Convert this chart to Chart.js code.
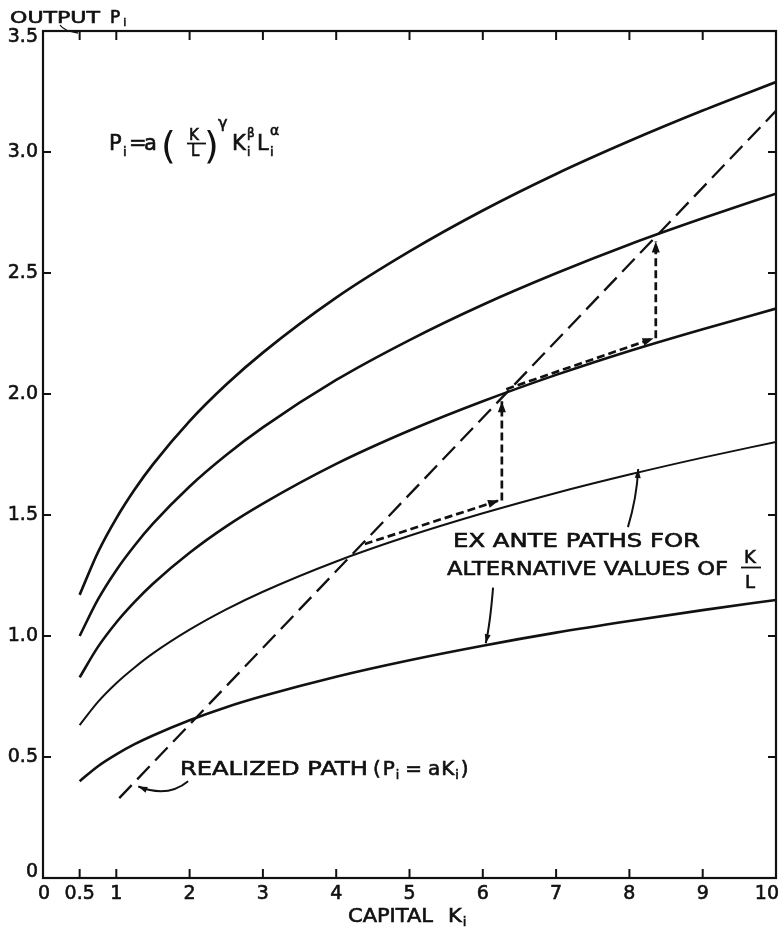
<!DOCTYPE html>
<html><head><meta charset="utf-8">
<script src="https://cdn.jsdelivr.net/npm/chart.js@4"></script>
<style>html,body{margin:0;padding:0;background:#fff}canvas{display:block}</style>
</head><body>
<canvas id="c" width="779" height="928"></canvas>
<script>
// ---- data ----
const capitalK = [0.5, 0.75, 1, 1.25, 1.5, 2, 2.5, 3, 4, 5, 6, 7, 8, 9, 10];
const path1 = [1.170, 1.346, 1.486, 1.605, 1.709, 1.888, 2.039, 2.171, 2.398, 2.589, 2.758, 2.909, 3.045, 3.171, 3.289];
const path2 = [1.000, 1.151, 1.272, 1.374, 1.464, 1.618, 1.748, 1.862, 2.058, 2.223, 2.369, 2.499, 2.618, 2.726, 2.828];
const path3 = [0.829, 0.955, 1.056, 1.141, 1.216, 1.344, 1.453, 1.547, 1.711, 1.849, 1.970, 2.079, 2.178, 2.268, 2.353];
const path4 = [0.632, 0.728, 0.805, 0.870, 0.928, 1.026, 1.110, 1.183, 1.308, 1.414, 1.507, 1.591, 1.667, 1.737, 1.802];
const path5 = [0.400, 0.462, 0.511, 0.553, 0.589, 0.652, 0.706, 0.752, 0.832, 0.900, 0.960, 1.014, 1.062, 1.107, 1.149];
const realizedK = [1.04, 10];
const realizedP = [0.33, 3.17];
const step1K = [4.39, 6.22], step1P = [1.38, 1.56];
const rise1K = [6.26, 6.26], rise1P = [1.56, 1.97];
const step2K = [6.32, 8.33], step2P = [2.02, 2.23];
const rise2K = [8.36, 8.36], rise2P = [2.23, 2.63];
const xTickVals = [0, 0.5, 1, 2, 3, 4, 5, 6, 7, 8, 9, 10];
const xTickLabels = ['0', '0.5', '1', '2', '3', '4', '5', '6', '7', '8', '9', '10'];
const yTickVals = [0, 0.5, 1, 1.5, 2, 2.5, 3, 3.5];
const yTickLabels = ['0', '0.5', '1.0', '1.5', '2.0', '2.5', '3.0', '3.5'];

const FONT = '"DejaVu Sans", sans-serif';
const INK = '#111';
const pts = (xs, ys) => xs.map((x, i) => ({x: x, y: ys[i]}));

function curve(data, w) {
  return {data: pts(capitalK, data), borderColor: INK, borderWidth: w, pointRadius: 0,
          cubicInterpolationMode: 'monotone', fill: false};
}
function dashed(xs, ys, dash, w, head) {
  return {data: pts(xs, ys), borderColor: INK, borderWidth: w, pointRadius: 0,
          borderDash: dash, fill: false, arrowHead: head};
}
function T(ctx, s, x, y) {
  ctx.fillText(s, x, y);
  ctx.save(); ctx.lineWidth = 0.6; ctx.strokeText(s, x, y); ctx.restore();
}
function fitText(ctx, s, x, y, w, size) {
  ctx.font = size + 'px ' + FONT;
  const m = ctx.measureText(s).width;
  ctx.save(); ctx.translate(x, y); ctx.scale(w / m, 1); T(ctx, s, 0, 0); ctx.restore();
}
function rich(ctx, parts, x, y, sx) {
  let cx = x;
  for (const p of parts) {
    ctx.font = p.size + 'px ' + FONT;
    const m = ctx.measureText(p.t).width;
    ctx.save(); ctx.translate(cx, y + (p.dy || 0)); ctx.scale(sx, 1); T(ctx, p.t, 0, 0); ctx.restore();
    cx += m * sx + (p.gap || 0);
  }
}
function head(ctx, x, y, ang, len, wid) {
  ctx.save(); ctx.translate(x, y); ctx.rotate(ang);
  ctx.beginPath(); ctx.moveTo(0, 0); ctx.lineTo(-len, -wid / 2); ctx.lineTo(-len, wid / 2); ctx.closePath();
  ctx.fill(); ctx.restore();
}
function curvedArrow(ctx, xs, ys, s, c, t) {
  const p0 = {x: xs.getPixelForValue(s[0]), y: ys.getPixelForValue(s[1])};
  const p1 = {x: xs.getPixelForValue(c[0]), y: ys.getPixelForValue(c[1])};
  const p2 = {x: xs.getPixelForValue(t[0]), y: ys.getPixelForValue(t[1])};
  ctx.beginPath(); ctx.moveTo(p0.x, p0.y); ctx.quadraticCurveTo(p1.x, p1.y, p2.x, p2.y); ctx.stroke();
  head(ctx, p2.x, p2.y, Math.atan2(p2.y - p1.y, p2.x - p1.x), 9, 6);
}

const decor = {
  id: 'decor',
  afterDatasetsDraw(chart) {
    const ctx = chart.ctx, a = chart.chartArea;
    const xs = chart.scales.x, ys = chart.scales.y;
    ctx.save();
    ctx.fillStyle = INK; ctx.strokeStyle = INK;
    // arrow heads on dashed step arrows
    chart.data.datasets.forEach((ds, i) => {
      if (!ds.arrowHead) return;
      const m = chart.getDatasetMeta(i).data;
      const p = m[m.length - 1], q = m[m.length - 2];
      head(ctx, p.x, p.y, Math.atan2(p.y - q.y, p.x - q.x), 11, 8);
    });
    // frame
    ctx.lineWidth = 2.2;
    ctx.strokeRect(a.left, a.top, a.right - a.left, a.bottom - a.top);
    // inward ticks
    ctx.lineWidth = 2;
    xTickVals.forEach(v => {
      if (v === 0 || v === 10) return;
      const px = xs.getPixelForValue(v);
      ctx.beginPath(); ctx.moveTo(px, a.bottom); ctx.lineTo(px, a.bottom - 9); ctx.stroke();
      ctx.beginPath(); ctx.moveTo(px, a.top); ctx.lineTo(px, a.top + 9); ctx.stroke();
    });
    yTickVals.forEach(v => {
      if (v === 0 || v === 3.5) return;
      const py = ys.getPixelForValue(v);
      ctx.beginPath(); ctx.moveTo(a.left, py); ctx.lineTo(a.left + 8, py); ctx.stroke();
      ctx.beginPath(); ctx.moveTo(a.right, py); ctx.lineTo(a.right - 8, py); ctx.stroke();
    });
    // tick labels
    ctx.textBaseline = 'middle';
    ctx.font = '19px ' + FONT;
    ctx.textAlign = 'right';
    yTickVals.forEach((v, i) => {
      let py = ys.getPixelForValue(v);
      if (v === 0) py -= 6;
      if (v === 3.5) py += 6;
      T(ctx, yTickLabels[i], 38, py);
    });
    xTickVals.forEach((v, i) => {
      const px = xs.getPixelForValue(v);
      if (v === 10) { ctx.textAlign = 'right'; T(ctx, xTickLabels[i], 779, a.bottom + 16); }
      else { ctx.textAlign = 'center'; T(ctx, xTickLabels[i], px + (v === 0 ? 1 : 0), a.bottom + 16); }
    });
    ctx.textAlign = 'left'; ctx.textBaseline = 'alphabetic';
    // axis titles
    fitText(ctx, 'OUTPUT', 10, 23, 90, 16);
    rich(ctx, [{t: 'P', size: 17, gap: 3}, {t: 'i', size: 11, dy: 3}], 110, 23, 1);
    ctx.lineWidth = 1.3;
    ctx.beginPath(); ctx.moveTo(60, 25); ctx.quadraticCurveTo(64, 31, 78, 33); ctx.stroke();
    fitText(ctx, 'CAPITAL', 348, 922, 85, 19);
    rich(ctx, [{t: 'K', size: 19, gap: 1}, {t: 'i', size: 12, dy: 4}], 448, 922, 1.1);
    // formula
    ctx.font = '21px ' + FONT; T(ctx, 'P', 109, 150);
    ctx.font = '13px ' + FONT; T(ctx, 'i', 123, 156);
    ctx.font = '21px ' + FONT; T(ctx, '=', 129, 150);
    T(ctx, 'a', 144, 150);
    ctx.font = '38px ' + FONT; ctx.fillText('(', 161, 158);
    ctx.font = '15px ' + FONT; T(ctx, 'K', 189, 140);
    T(ctx, 'L', 191, 156);
    ctx.lineWidth = 1.8;
    ctx.beginPath(); ctx.moveTo(187, 143.5); ctx.lineTo(206, 143.5); ctx.stroke();
    ctx.font = '38px ' + FONT; ctx.fillText(')', 204, 158);
    ctx.font = '16px ' + FONT; T(ctx, 'γ', 218, 128);
    ctx.font = '21px ' + FONT; T(ctx, 'K', 232, 150);
    ctx.font = '12px ' + FONT; T(ctx, 'β', 247, 137); T(ctx, 'i', 247, 156);
    ctx.font = '21px ' + FONT; T(ctx, 'L', 257, 150);
    ctx.font = '14px ' + FONT; T(ctx, 'α', 270, 135);
    ctx.font = '13px ' + FONT; T(ctx, 'i', 270, 156);
    // ex ante annotation
    fitText(ctx, 'EX ANTE PATHS FOR', 453, 547, 247, 19);
    fitText(ctx, 'ALTERNATIVE VALUES OF', 447, 575, 281, 19);
    ctx.font = '18px ' + FONT; T(ctx, 'K', 744, 563); T(ctx, 'L', 745, 588);
    ctx.lineWidth = 1.8;
    ctx.beginPath(); ctx.moveTo(741, 567.5); ctx.lineTo(761, 567.5); ctx.stroke();
    // realized path annotation
    fitText(ctx, 'REALIZED PATH', 180, 775, 188, 19);
    rich(ctx, [{t: '(', size: 19, gap: 2}, {t: 'P', size: 19, gap: 1}, {t: 'i', size: 12, dy: 4, gap: 6},
               {t: '=', size: 19, gap: 6}, {t: 'a', size: 19, gap: 1}, {t: 'K', size: 19, gap: 1},
               {t: 'i', size: 12, dy: 4, gap: 2}, {t: ')', size: 19}], 373, 775, 1.05);
    // annotation arrows
    ctx.lineWidth = 2;
    curvedArrow(ctx, xs, ys, [7.98, 1.45], [8.10, 1.57], [8.12, 1.69]);
    curvedArrow(ctx, xs, ys, [6.14, 1.20], [6.10, 1.05], [6.04, 0.97]);
    curvedArrow(ctx, xs, ys, [1.98, 0.40], [1.70, 0.33], [1.30, 0.378]);
    ctx.restore();
  }
};

new Chart(document.getElementById('c'), {
  type: 'line',
  data: {
    datasets: [
      curve(path1, 2.7), curve(path2, 2.6), curve(path3, 2.6), curve(path4, 2.0), curve(path5, 2.6),
      dashed(realizedK, realizedP, [18, 8], 2.3, false),
      dashed(step1K, step1P, [8, 4], 2.7, true),
      dashed(rise1K, rise1P, [8, 4], 2.7, true),
      dashed(step2K, step2P, [8, 4], 2.7, true),
      dashed(rise2K, rise2P, [8, 4], 2.7, true)
    ]
  },
  options: {
    responsive: false, animation: false, devicePixelRatio: 1,
    layout: {padding: {top: 31, right: 3, left: 0, bottom: 0}},
    plugins: {legend: {display: false}, tooltip: {enabled: false}},
    scales: {
      x: {type: 'linear', min: 0, max: 10,
          grid: {display: false}, border: {display: false}, ticks: {display: false},
          afterBuildTicks: s => { s.ticks = xTickVals.map(v => ({value: v})); },
          afterFit: s => { s.height = 50; }},
      y: {type: 'linear', min: 0, max: 3.5,
          grid: {display: false}, border: {display: false}, ticks: {display: false},
          afterBuildTicks: s => { s.ticks = yTickVals.map(v => ({value: v})); },
          afterFit: s => { s.width = 43; }}
    }
  },
  plugins: [decor]
});
</script>
</body></html>
